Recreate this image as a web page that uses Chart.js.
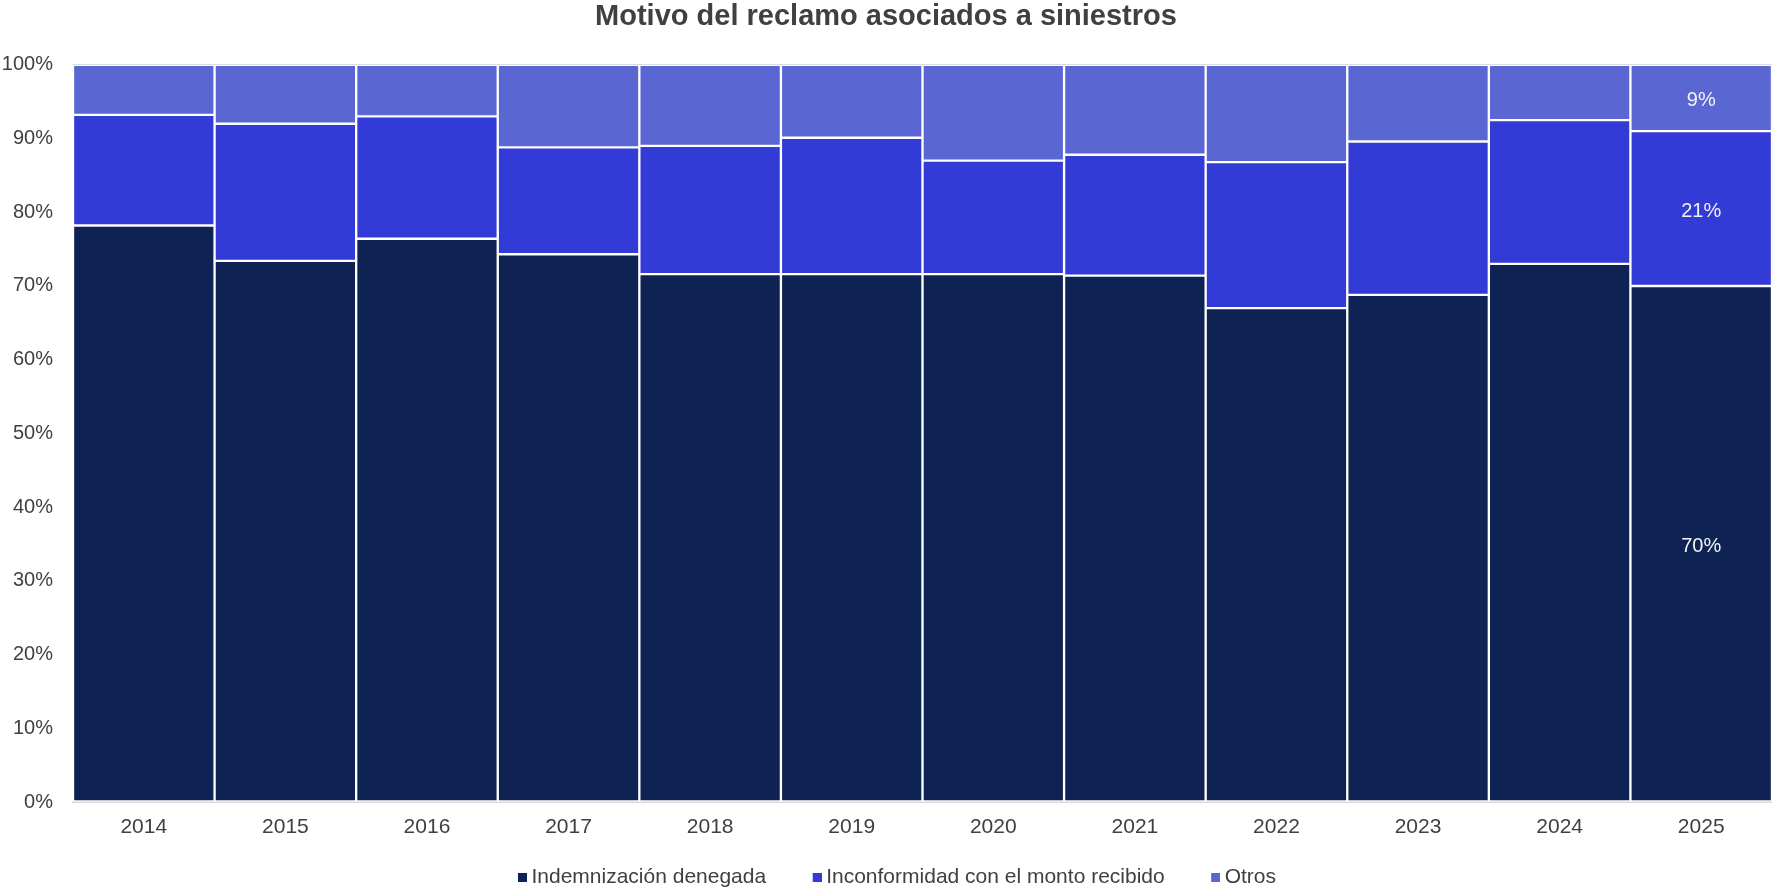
<!DOCTYPE html>
<html>
<head>
<meta charset="utf-8">
<title>Motivo del reclamo asociados a siniestros</title>
<script src="https://cdn.jsdelivr.net/npm/chart.js@4"></script>
<style>
  html, body { margin: 0; padding: 0; background: #fff; }
  #wrap { width: 1772px; height: 890px; }
</style>
</head>
<body>
<div id="wrap"><canvas id="chart"></canvas></div>
<script>
const years = ['2014', '2015', '2016', '2017', '2018', '2019', '2020', '2021', '2022', '2023', '2024', '2025'];
const indemnizacion = [78.2, 73.4, 76.4, 74.3, 71.6, 71.6, 71.6, 71.4, 67.0, 68.8, 73.0, 70];
const inconformidad = [15.0, 18.6, 16.6, 14.5, 17.4, 18.5, 15.4, 16.4, 19.8, 20.8, 19.5, 21];
const otros = [6.8, 8.0, 7.0, 11.2, 11.0, 9.9, 13.0, 12.2, 13.2, 10.4, 7.5, 9];
const yTicks = [0, 10, 20, 30, 40, 50, 60, 70, 80, 90, 100];

const textColor = '#404040';
Chart.defaults.font.family = '"Liberation Sans", Arial, sans-serif';
Chart.defaults.color = textColor;

// small square legend marker, drawn close to its text
function swatch(color) {
  const c = document.createElement('canvas');
  c.width = 13;
  c.height = 9;
  const g = c.getContext('2d');
  g.fillStyle = color;
  g.fillRect(4, 0, 9, 9);
  return c;
}

// values written inside the last column only
const lastBarLabels = {
  id: 'lastBarLabels',
  afterDatasetsDraw(chart) {
    const ctx = chart.ctx;
    const idx = years.length - 1;
    ctx.save();
    ctx.font = '20px "Liberation Sans", Arial, sans-serif';
    ctx.fillStyle = '#f2f2f2';
    ctx.textAlign = 'center';
    ctx.textBaseline = 'middle';
    chart.data.datasets.forEach((ds, i) => {
      const bar = chart.getDatasetMeta(i).data[idx];
      const cy = (bar.y + bar.base) / 2 + 3;
      ctx.fillText(Math.round(ds.data[idx]) + '%', bar.x, cy);
    });
    ctx.restore();
  }
};

// nudge the legend row a bit to the right
const legendShift = {
  id: 'legendShift',
  afterLayout(chart) {
    chart.legend.left += 12;
    chart.legend.right += 12;
  }
};

new Chart(document.getElementById('chart'), {
  type: 'bar',
  data: {
    labels: years,
    datasets: [
      { label: 'Indemnización denegada', data: indemnizacion, backgroundColor: '#0e2354' },
      { label: 'Inconformidad con el monto recibido', data: inconformidad, backgroundColor: '#333bd6' },
      { label: 'Otros', data: otros, backgroundColor: '#5a67d3' }
    ].map(d => Object.assign(d, {
      borderColor: '#ffffff',
      borderWidth: 1.5,
      borderSkipped: false,
      barPercentage: 1,
      categoryPercentage: 1
    }))
  },
  options: {
    responsive: true,
    maintainAspectRatio: false,
    animation: false,
    layout: { padding: { left: 0, right: 0, top: 0, bottom: -8 } },
    plugins: {
      title: {
        display: true,
        text: 'Motivo del reclamo asociados a siniestros',
        color: textColor,
        font: { size: 29, weight: 'bold' },
        padding: { top: 0, bottom: 30 }
      },
      legend: {
        position: 'bottom',
        labels: {
          usePointStyle: true,
          boxWidth: 1,
          boxHeight: 9,
          padding: 31,
          font: { size: 21 },
          color: textColor,
          generateLabels(chart) {
            const items = Chart.defaults.plugins.legend.labels.generateLabels(chart);
            items.forEach((it, i) => {
              it.pointStyle = swatch(chart.data.datasets[i].backgroundColor);
              // a little extra room after each entry but the last
              if (i < items.length - 1) it.text += '\u00a0\u00a0\u00a0';
            });
            return items;
          }
        }
      },
      tooltip: { enabled: false }
    },
    scales: {
      x: {
        stacked: true,
        grid: { display: false, drawTicks: false },
        border: { color: '#d9d9d9', width: 2 },
        ticks: { font: { size: 21 }, color: textColor, padding: 13 },
        afterFit(axis) { axis.height = 34; }
      },
      y: {
        stacked: true,
        min: 0,
        max: 100,
        afterBuildTicks(axis) {
          axis.ticks = yTicks.map(v => ({ value: v }));
        },
        afterFit(axis) { axis.width = 73; },
        grid: { color: '#d9d9d9', drawTicks: false },
        border: { display: false },
        ticks: {
          font: { size: 20 },
          color: textColor,
          padding: 20,
          callback: v => v + '%'
        }
      }
    }
  },
  plugins: [lastBarLabels, legendShift]
});
</script>
</body>
</html>
